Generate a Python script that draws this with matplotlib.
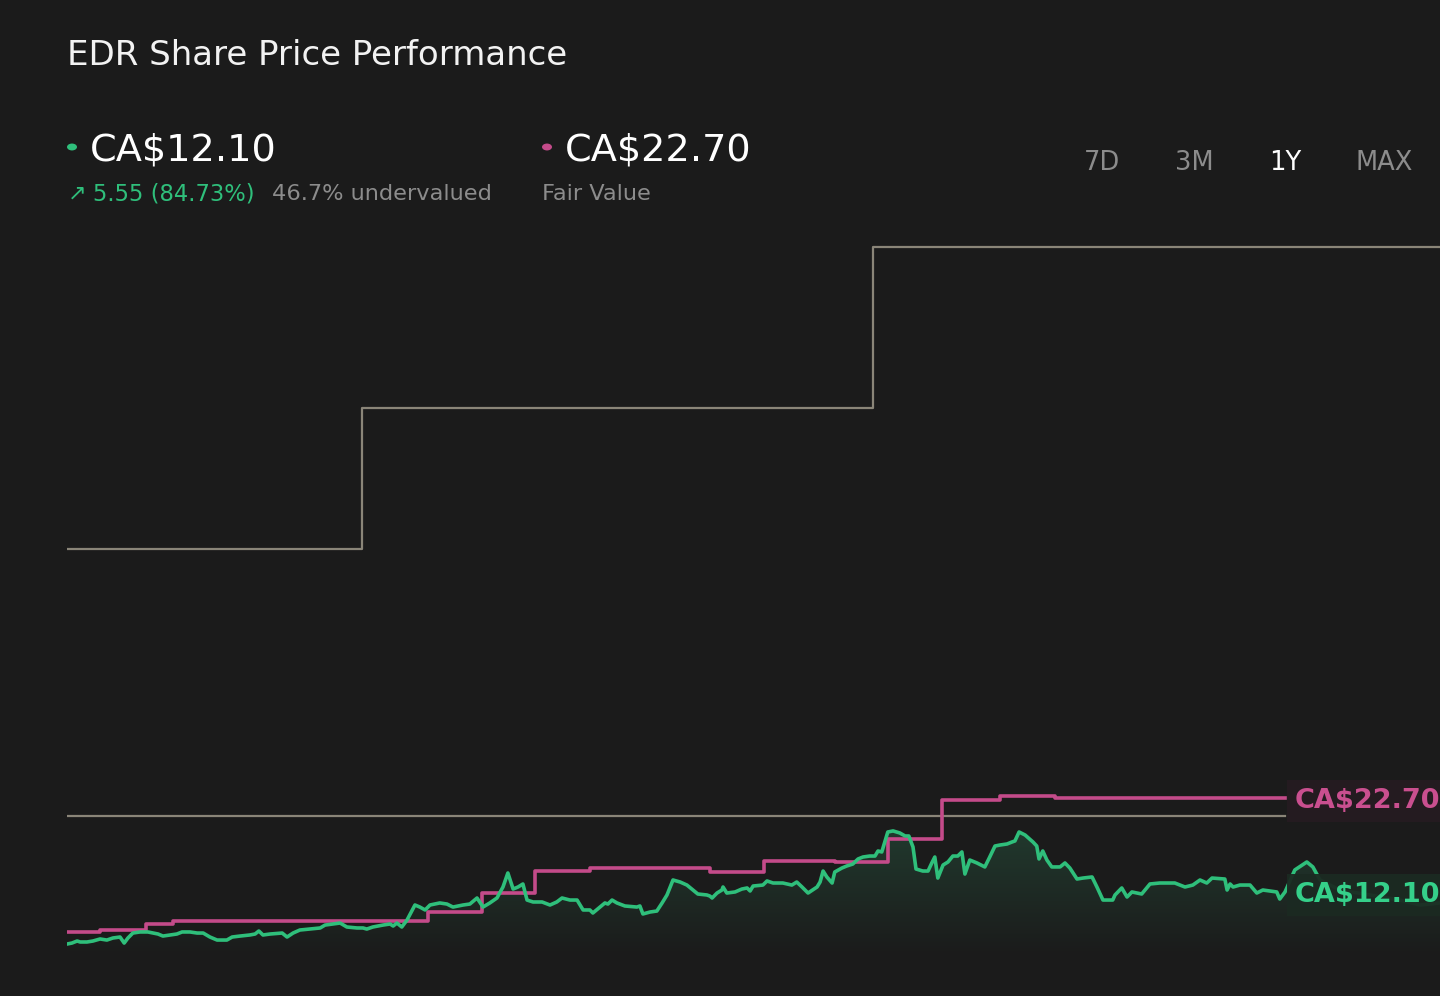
import numpy as np
import matplotlib.pyplot as plt
from matplotlib.colors import LinearSegmentedColormap
from matplotlib.patches import Circle, PathPatch
from matplotlib.path import Path

# ---- data (days since start of the 1Y window, CA$) ----
price_days = [0, 1.3, 2.7, 3.5, 5.3, 6.9, 8.8, 10.6, 12.2, 14.1, 15.2, 16.2, 17.5, 19.4, 21.5, 22.9, 24.2,
              25.5, 27.4, 29.2, 30.6, 32.7, 34.6, 36.2, 38.0, 39.9, 42.5, 43.9, 46.0, 48.6, 50.0, 51.0, 52.1, 54.0,
              57.2, 58.5, 60.1, 61.9, 64.6, 67.3, 68.6, 72.6, 74.4, 77.1, 78.7, 79.7, 81.3, 84.0,
              85.9, 86.7, 87.7, 89.0, 90.4, 92.5, 93.8, 95.2, 96.5, 99.1, 101.0, 102.6, 105.3, 107.1,
              109.0, 110.6, 112.4, 114.3, 115.9, 117.2, 118.6, 119.9, 121.2, 122.3, 123.9, 126.3, 128.4,
              130.2, 131.6, 133.7, 135.6, 137.2, 139.0, 139.8, 141.7, 143.0, 143.8, 144.9, 146.2, 148.3,
              151.5, 152.3, 153.1, 155.0, 156.8, 158.2, 159.5,
              161.1, 163.0, 164.8, 166.4, 167.7, 170.1, 170.9, 171.5, 172.8, 174.1, 174.4, 175.4, 177.6,
              179.4, 180.8, 181.6, 182.4, 185.0, 186.1, 187.7, 190.3, 192.7, 194.0, 195.4, 197.0, 199.4,
              200.2, 201.0, 202.0, 203.4, 204.1, 206.0, 207.3, 208.9, 210.3, 211.6, 213.4,
              214.8, 215.6, 216.6, 218.2, 219.6, 221.4, 222.8, 223.8, 224.9, 225.7, 227.5, 228.9, 229.9,
              230.7, 231.5, 232.9, 234.2, 235.5, 236.8, 237.9, 238.7, 240.0, 241.9, 244.0, 245.3, 246.7,
              248.0, 249.9, 251.2, 252.0, 253.1, 254.7, 256.8, 257.8, 258.4, 259.4, 260.5, 261.8, 264.0,
              265.3, 266.6,
              268.5, 270.1, 272.5, 273.8, 275.4, 278.0, 278.6, 280.4, 281.8, 283.1, 285.7, 287.9, 290.5,
              294.5, 297.2, 299.3, 301.2, 303.0, 304.4, 307.8, 308.4, 309.2, 310.0, 311.8, 314.5, 316.3,
              317.9, 321.6, 322.4, 323.8,
              326.4, 329.6, 331.2, 333.1, 338.4, 346.4, 354.3, 359.7, 365.0]
price_vals = [6.24, 6.35, 6.58, 6.47, 6.47, 6.58, 6.81, 6.69, 6.92, 7.03, 6.35, 6.92, 7.48, 7.60, 7.60, 7.48, 7.37,
              7.14, 7.26, 7.37, 7.60, 7.60, 7.48, 7.48, 7.03, 6.69, 6.69, 7.03, 7.14, 7.26, 7.37, 7.71, 7.26, 7.37,
              7.48, 7.03, 7.48, 7.82, 7.93, 8.05, 8.38, 8.61, 8.16, 8.05, 8.05, 7.93, 8.16, 8.38,
              8.50, 8.27, 8.61, 8.16, 8.95, 10.64, 10.41, 10.08, 10.64, 10.87, 10.75, 10.41, 10.64, 10.75,
              11.43, 10.41, 10.87, 11.43, 12.67, 14.25, 12.44, 12.67, 13.01, 11.20, 10.98, 10.98, 10.64,
              10.98, 11.43, 11.20, 11.20, 10.08, 10.08, 9.74, 10.41, 10.87, 10.75, 11.20, 10.87, 10.53,
              10.41, 10.53, 9.63, 9.85, 9.96, 10.87, 11.77,
              13.46, 13.23, 12.89, 12.33, 11.88, 11.77, 11.65, 11.43, 11.99, 12.33, 12.67, 11.99, 12.11,
              12.44, 12.56, 12.22, 12.78, 12.89, 13.35, 13.12, 13.12, 12.89, 13.23, 12.67, 11.99, 12.67,
              13.23, 14.47, 13.80, 13.12, 14.36, 14.81, 15.04, 15.26, 15.83, 16.05, 16.16,
              16.16, 16.73, 16.62, 18.87, 18.99, 18.76, 18.42, 18.42, 17.18, 14.70, 14.47, 14.47, 15.38,
              16.05, 13.68, 15.15, 15.49, 16.16, 16.16, 16.62, 14.13, 15.71, 15.38, 14.93, 16.05, 17.29,
              17.40, 17.52, 17.74, 17.86, 18.87, 18.53, 17.74, 17.29, 15.83, 16.73, 15.71, 14.93, 14.93,
              15.38, 14.81,
              13.57, 13.68, 13.80, 12.67, 11.20, 11.20, 11.77, 12.56, 11.54, 12.11, 11.88, 13.01, 13.12,
              13.12, 12.67, 12.89, 13.46, 13.12, 13.68, 13.57, 12.33, 13.01, 12.67, 12.89, 12.89, 11.99,
              12.33, 12.11, 11.31, 12.11,
              14.59, 15.49, 14.93, 13.46, 12.33, 11.77, 11.20, 10.64, 10.87]

fair_days = [0, 8.8, 21.0, 28.2, 96.0, 110.3, 124.4, 139.0, 170.9, 185.3, 204.1, 218.2, 232.6,
             248.0, 262.6, 323.8]
fair_vals = [7.60, 7.82, 8.50, 8.84, 9.85, 11.99, 14.47, 14.81, 14.36, 15.60, 15.49, 18.08, 22.48,
             22.93, 22.70, 22.70]

target_days = [0, 78.4, 214.2, 365.0]
target_vals = [50.78, 66.67, 84.82, 84.82]
ref_days = [0, 323.8]
ref_vals = [20.67, 20.67]

last_price = "CA$12.10"
fair_value = "CA$22.70"
change_text = "5.55 (84.73%)"
valuation_text = "46.7% undervalued"
periods = ["7D", "3M", "1Y", "MAX"]
period_x = [1102, 1194, 1285, 1384]

BG = "#1b1b1b"
GREEN = "#2fbf7b"
PINK = "#c44b8a"
GREY = "#8a8578"
W, H = 1440, 996

fig = plt.figure(figsize=(14.4, 9.96), dpi=100, facecolor=BG)


def fx(px):
    return px / W


def fy(py):
    return 1 - py / H


ax = fig.add_axes([fx(67), fy(960), fx(W) - fx(67), fy(115) - fy(960)])
ax.set_facecolor(BG)
ax.set_xlim(0, 365)
ax.set_ylim(4.44, 99.7)
ax.axis("off")

# gradient under the price line
grad = np.linspace(0, 1, 256).reshape(-1, 1)
cmap = LinearSegmentedColormap.from_list("g", [BG, "#213a2e"])
im = ax.imshow(grad, extent=[0, 365, 5.0, 19.5], origin="lower", aspect="auto",
               cmap=cmap, zorder=1)
verts = [(price_days[0], 5.0)] + list(zip(price_days, price_vals)) + [(price_days[-1], 5.0)]
clip = PathPatch(Path(verts), transform=ax.transData, facecolor="none", edgecolor="none")
ax.add_patch(clip)
im.set_clip_path(clip)

ax.plot(target_days, target_vals, drawstyle="steps-post", color=GREY, lw=1.6, zorder=2)
ax.plot(ref_days, ref_vals, color=GREY, lw=1.6, zorder=2)
ax.plot(fair_days, fair_vals, drawstyle="steps-post", color=PINK, lw=2.6, zorder=3)
ax.plot(price_days, price_vals, color=GREEN, lw=2.6, zorder=4, solid_joinstyle="round")

# end labels
fig.text(fx(1295), fy(808), fair_value, color="#c94f8f", fontsize=19.5, fontweight="bold",
         va="baseline", ha="left", zorder=10,
         bbox=dict(boxstyle="square,pad=0.3", facecolor="#251c21", edgecolor="none", alpha=0.95))
fig.text(fx(1295), fy(902), last_price, color="#35d08a", fontsize=19.5, fontweight="bold",
         va="baseline", ha="left", zorder=10,
         bbox=dict(boxstyle="square,pad=0.3", facecolor="#1b2a22", edgecolor="none", alpha=0.95))

# header
fig.text(fx(67), fy(65), "EDR Share Price Performance", color="#f2f2f2", fontsize=24.5,
         va="baseline", ha="left")
fig.patches.append(Circle((fx(72), fy(147)), 5 / W, transform=fig.transFigure,
                          facecolor=GREEN, edgecolor="none"))
fig.patches.append(Circle((fx(547), fy(147)), 5 / W, transform=fig.transFigure,
                          facecolor=PINK, edgecolor="none"))
fig.text(fx(90), fy(161), last_price, color="white", fontsize=27.5, va="baseline", ha="left")
fig.text(fx(565), fy(161), fair_value, color="white", fontsize=27.5, va="baseline", ha="left")
fig.text(fx(68), fy(200), "\u2197", color=GREEN, fontsize=16, va="baseline", ha="left")
fig.text(fx(93), fy(200), change_text, color=GREEN, fontsize=16.3, va="baseline", ha="left")
fig.text(fx(272), fy(200), valuation_text, color="#8c8c8c", fontsize=16.2, va="baseline", ha="left")
fig.text(fx(542), fy(200), "Fair Value", color="#8c8c8c", fontsize=16.2, va="baseline", ha="left")

for label, x in zip(periods, period_x):
    col = "white" if label == "1Y" else "#8c8c8c"
    fig.text(fx(x), fy(170), label, color=col, fontsize=18.5, va="baseline", ha="center")

fig.savefig("out.png", dpi=100, facecolor=BG)
